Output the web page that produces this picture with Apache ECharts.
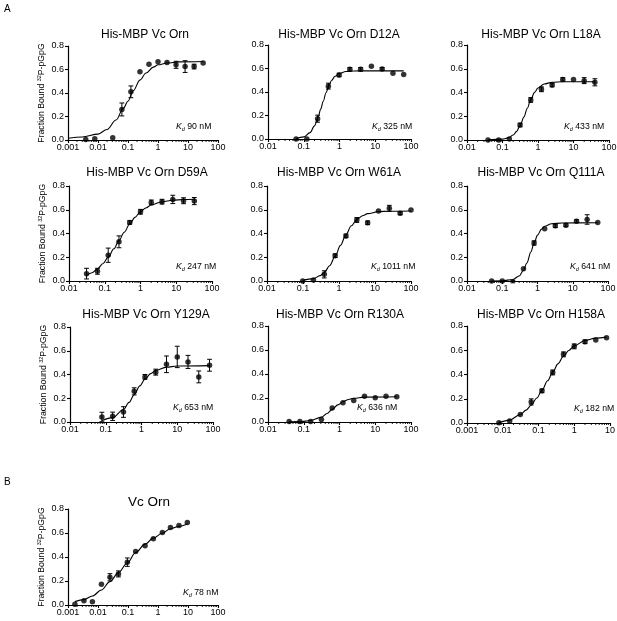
<!DOCTYPE html>
<html><head><meta charset="utf-8">
<script src="https://cdn.jsdelivr.net/npm/echarts@6/dist/echarts.min.js"></script>
<style>html,body{margin:0;padding:0;background:#fff}#c{width:617px;height:621px}</style>
</head><body><div id="c"></div>
<script>
const FONT = '"Liberation Sans", Arial, Helvetica, sans-serif';

// ---------------- data ----------------
const panelTitles = ['His-MBP Vc Orn', 'His-MBP Vc Orn D12A', 'His-MBP Vc Orn L18A',
  'His-MBP Vc Orn D59A', 'His-MBP Vc Orn W61A', 'His-MBP Vc Orn Q111A',
  'His-MBP Vc Orn Y129A', 'His-MBP Vc Orn R130A', 'His-MBP Vc Orn H158A', 'Vc Orn'];
const kdLabels = ['90 nM', '325 nM', '433 nM', '247 nM', '1011 nM', '641 nM', '653 nM', '636 nM', '182 nM', '78 nM'];
const xMin = [0.001, 0.01, 0.01, 0.01, 0.01, 0.01, 0.01, 0.01, 0.001, 0.001];
const xMax = [100, 100, 100, 100, 100, 100, 100, 100, 10, 100];
const yTicks = [0, 0.2, 0.4, 0.6, 0.8];
const yAxisTitle = ['Fraction Bound ', '32', 'P-pGpG'];

// His-MBP Vc Orn
const ornConc = [0.0039, 0.0078, 0.031, 0.0625, 0.125, 0.25, 0.5, 1, 2, 4, 8, 16, 32];
const ornFrac = [0.005, 0.01, 0.02, 0.26, 0.41, 0.58, 0.645, 0.665, 0.66, 0.64, 0.625, 0.625, 0.655];
const ornErr  = [0, 0, 0, 0.055, 0.05, 0, 0, 0, 0, 0.03, 0.05, 0.02, 0];
const ornFitConc = [0.001, 0.003, 0.01, 0.02, 0.04, 0.07, 0.1, 0.15, 0.25, 0.4, 0.7, 1, 2, 5, 32];
const ornFitFrac = [0.015, 0.025, 0.05, 0.09, 0.17, 0.27, 0.33, 0.42, 0.51, 0.57, 0.62, 0.64, 0.655, 0.665, 0.668];

// D12A
const d12aConc = [0.061, 0.122, 0.244, 0.488, 0.977, 1.95, 3.9, 7.8, 15.6, 31.25, 62.5];
const d12aFrac = [0.0, 0.0, 0.173, 0.45, 0.545, 0.593, 0.593, 0.62, 0.596, 0.559, 0.55];
const d12aErr  = [0, 0, 0.03, 0.025, 0.015, 0.015, 0.015, 0, 0.012, 0, 0];
const d12aFitConc = [0.061, 0.1, 0.15, 0.2, 0.25, 0.3, 0.35, 0.42, 0.5, 0.6, 0.75, 1, 1.5, 2.5, 5, 62.5];
const d12aFitFrac = [0.004, 0.018, 0.054, 0.112, 0.183, 0.256, 0.321, 0.394, 0.452, 0.498, 0.534, 0.559, 0.574, 0.579, 0.58, 0.58];

// L18A
const l18aConc = [0.039, 0.078, 0.156, 0.3125, 0.625, 1.25, 2.5, 5, 10, 20, 40];
const l18aFrac = [0, 0, 0.008, 0.126, 0.337, 0.427, 0.463, 0.51, 0.51, 0.5, 0.486];
const l18aErr  = [0, 0, 0, 0.015, 0.02, 0.02, 0.015, 0.015, 0, 0.025, 0.03];
const l18aFitConc = [0.039, 0.1, 0.15, 0.2, 0.25, 0.3125, 0.4, 0.5, 0.625, 0.8, 1, 1.5, 2.5, 5, 40];
const l18aFitFrac = [0.001, 0.007, 0.02, 0.042, 0.073, 0.12, 0.193, 0.268, 0.34, 0.401, 0.438, 0.472, 0.486, 0.49, 0.49];

// D59A
const d59aConc = [0.031, 0.0625, 0.125, 0.25, 0.5, 1, 2, 4, 8, 16, 32];
const d59aFrac = [0.062, 0.082, 0.217, 0.33, 0.493, 0.583, 0.662, 0.668, 0.687, 0.676, 0.673];
const d59aErr  = [0.045, 0.025, 0.06, 0.05, 0.015, 0.02, 0.02, 0.02, 0.035, 0.025, 0.03];
const d59aFitConc = [0.031, 0.044, 0.0625, 0.09, 0.125, 0.18, 0.25, 0.35, 0.5, 0.7, 1, 1.4, 2, 4, 8, 16, 32];
const d59aFitFrac = [0.047, 0.07, 0.102, 0.148, 0.201, 0.271, 0.34, 0.411, 0.48, 0.536, 0.583, 0.615, 0.64, 0.668, 0.68, 0.686, 0.688];

// W61A
const w61aConc = [0.098, 0.195, 0.39, 0.78, 1.56, 3.125, 6.25, 12.5, 25, 50, 100];
const w61aFrac = [0.0, 0.008, 0.056, 0.213, 0.38, 0.514, 0.49, 0.59, 0.612, 0.57, 0.598];
const w61aErr  = [0, 0, 0.03, 0.015, 0.015, 0.02, 0.015, 0, 0.025, 0.012, 0];
const w61aFitConc = [0.098, 0.195, 0.3, 0.39, 0.55, 0.78, 1.1, 1.56, 2.2, 3.125, 4.5, 6.25, 12.5, 25, 100];
const w61aFitFrac = [0.005, 0.02, 0.045, 0.072, 0.128, 0.208, 0.3, 0.39, 0.465, 0.517, 0.55, 0.567, 0.584, 0.588, 0.59];

// Q111A
const q111aConc = [0.05, 0.1, 0.2, 0.4, 0.8, 1.6, 3.2, 6.4, 12.8, 25.6, 51.2];
const q111aFrac = [0, 0, -0.005, 0.104, 0.32, 0.44, 0.465, 0.47, 0.504, 0.518, 0.493];
const q111aErr  = [0, 0, 0.01, 0, 0.018, 0, 0.015, 0.012, 0.012, 0.04, 0];
const q111aFitConc = [0.05, 0.1, 0.2, 0.3, 0.4, 0.5, 0.65, 0.8, 1, 1.3, 1.6, 2.5, 5, 51.2];
const q111aFitFrac = [0, 0.002, 0.013, 0.042, 0.09, 0.151, 0.245, 0.32, 0.386, 0.437, 0.461, 0.482, 0.489, 0.49];

// Y129A
const y129aConc = [0.078, 0.156, 0.3125, 0.625, 1.25, 2.5, 5, 10, 20, 40, 80];
const y129aFrac = [0.042, 0.048, 0.084, 0.258, 0.38, 0.42, 0.486, 0.548, 0.506, 0.38, 0.478];
const y129aErr  = [0.04, 0.035, 0.045, 0.03, 0.02, 0.025, 0.07, 0.09, 0.055, 0.05, 0.05];
const y129aFitConc = [0.078, 0.156, 0.3125, 0.45, 0.625, 0.9, 1.25, 1.8, 2.5, 5, 10, 80];
const y129aFitFrac = [0.012, 0.037, 0.105, 0.165, 0.23, 0.304, 0.36, 0.407, 0.434, 0.462, 0.471, 0.475];

// R130A
const r130aConc = [0.039, 0.078, 0.156, 0.3125, 0.625, 1.25, 2.5, 5, 10, 20, 40];
const r130aFrac = [0.005, 0.005, 0.005, 0.02, 0.117, 0.16, 0.18, 0.214, 0.203, 0.214, 0.21];
const r130aErr  = [0, 0, 0, 0, 0, 0, 0, 0, 0, 0, 0];
const r130aFitConc = [0.039, 0.078, 0.156, 0.3125, 0.45, 0.625, 0.9, 1.25, 1.8, 2.5, 5, 40];
const r130aFitFrac = [0.001, 0.003, 0.012, 0.041, 0.071, 0.105, 0.143, 0.169, 0.188, 0.198, 0.207, 0.21];

// H158A
const h158aConc = [0.0078, 0.0156, 0.031, 0.0625, 0.125, 0.25, 0.5, 1, 2, 4, 8];
const h158aFrac = [0.003, 0.016, 0.07, 0.174, 0.265, 0.417, 0.566, 0.632, 0.67, 0.684, 0.703];
const h158aErr  = [0, 0, 0, 0.025, 0.015, 0.02, 0.02, 0.02, 0.015, 0, 0];
const h158aFitConc = [0.0078, 0.0156, 0.031, 0.045, 0.0625, 0.09, 0.125, 0.18, 0.25, 0.35, 0.5, 0.7, 1, 2, 4, 8];
const h158aFitFrac = [0.003, 0.024, 0.07, 0.106, 0.147, 0.206, 0.27, 0.348, 0.42, 0.488, 0.55, 0.598, 0.636, 0.681, 0.7, 0.708];

// Vc Orn (panel B)
const vcConc = [0.0017, 0.0034, 0.0065, 0.013, 0.025, 0.048, 0.095, 0.18, 0.37, 0.7, 1.4, 2.6, 5, 9.5];
const vcFrac = [0.006, 0.036, 0.028, 0.173, 0.231, 0.259, 0.357, 0.446, 0.493, 0.552, 0.605, 0.646, 0.663, 0.688];
const vcErr  = [0, 0, 0, 0, 0.03, 0.025, 0.035, 0, 0, 0, 0, 0, 0, 0];
const vcFitConc = [0.0017, 0.0034, 0.0065, 0.013, 0.025, 0.048, 0.095, 0.18, 0.37, 0.7, 1.4, 2.6, 5, 9.5];
const vcFitFrac = [0.028, 0.045, 0.075, 0.125, 0.195, 0.27, 0.35, 0.437, 0.507, 0.557, 0.6, 0.635, 0.655, 0.677];

const panels = [
  [ornConc, ornFrac, ornErr, ornFitConc, ornFitFrac],
  [d12aConc, d12aFrac, d12aErr, d12aFitConc, d12aFitFrac],
  [l18aConc, l18aFrac, l18aErr, l18aFitConc, l18aFitFrac],
  [d59aConc, d59aFrac, d59aErr, d59aFitConc, d59aFitFrac],
  [w61aConc, w61aFrac, w61aErr, w61aFitConc, w61aFitFrac],
  [q111aConc, q111aFrac, q111aErr, q111aFitConc, q111aFitFrac],
  [y129aConc, y129aFrac, y129aErr, y129aFitConc, y129aFitFrac],
  [r130aConc, r130aFrac, r130aErr, r130aFitConc, r130aFitFrac],
  [h158aConc, h158aFrac, h158aErr, h158aFitConc, h158aFitFrac],
  [vcConc, vcFrac, vcErr, vcFitConc, vcFitFrac]
];

// ---------------- layout (pixels) ----------------
const layout = [
  {left: 68,  top: 46,  width: 150, height: 94, tx: 145, ty: 35,  kx: 176, ky: 127, ts: 12, yName: true},
  {left: 268, top: 45,  width: 143, height: 94, tx: 339, ty: 35,  kx: 372, ky: 127, ts: 12},
  {left: 467, top: 45,  width: 142, height: 95, tx: 541, ty: 35,  kx: 564, ky: 127, ts: 12},
  {left: 69,  top: 186, width: 143, height: 95, tx: 147, ty: 173, kx: 176, ky: 267, ts: 12, yName: true},
  {left: 267, top: 186, width: 144, height: 95, tx: 339, ty: 173, kx: 371, ky: 267, ts: 12},
  {left: 467, top: 186, width: 141, height: 95, tx: 541, ty: 173, kx: 570, ky: 267, ts: 12},
  {left: 70,  top: 327, width: 143, height: 95, tx: 146, ty: 315, kx: 173, ky: 408, ts: 12, yName: true},
  {left: 268, top: 326, width: 143, height: 96, tx: 340, ty: 315, kx: 357, ky: 408, ts: 12},
  {left: 467, top: 326, width: 143, height: 97, tx: 541, ty: 315, kx: 574, ky: 409, ts: 12},
  {left: 68,  top: 509, width: 150, height: 96, tx: 149, ty: 502, kx: 183, ky: 593, ts: 13.5, yName: true}
];

// ---------------- build ----------------
function errRender(params, api) {
  const x = api.value(0), y = api.value(1), e = api.value(2);
  const a = api.coord([x, y + e]), b = api.coord([x, y - e]);
  const w = 2.4;
  const st = {stroke: '#000', lineWidth: 1};
  return {type: 'group', children: [
    {type: 'line', shape: {x1: a[0], y1: a[1], x2: b[0], y2: b[1]}, style: st},
    {type: 'line', shape: {x1: a[0] - w, y1: a[1], x2: a[0] + w, y2: a[1]}, style: st},
    {type: 'line', shape: {x1: b[0] - w, y1: b[1], x2: b[0] + w, y2: b[1]}, style: st}
  ]};
}
function minorRender(params, api) {
  const p = api.coord([api.value(0), api.value(1)]);
  return {type: 'line', shape: {x1: p[0], y1: p[1], x2: p[0], y2: p[1] + 2}, style: {stroke: '#000', lineWidth: 0.9}};
}
function minorTickValues(lo, hi) {
  const out = [];
  const e0 = Math.round(Math.log10(lo)), e1 = Math.round(Math.log10(hi));
  for (let e = e0; e < e1; e++) for (let k = 2; k <= 9; k++) out.push(k * Math.pow(10, e));
  return out;
}

const grids = [], xAxes = [], yAxes = [], series = [], graphics = [];
panels.forEach((p, i) => {
  const [conc, frac, err, fitConc, fitFrac] = p;
  const L = layout[i];
  grids.push({left: L.left, top: L.top, width: L.width, height: L.height, containLabel: false, outerBoundsMode: 'none'});
  xAxes.push({
    type: 'log', logBase: 10, gridIndex: i, min: xMin[i], max: xMax[i], splitNumber: 5,
    axisLine: {onZero: false, lineStyle: {color: '#000', width: 1.2}},
    axisTick: {length: 3, lineStyle: {color: '#000', width: 1.1}},
    axisLabel: {fontSize: 9, color: '#000', fontFamily: FONT, margin: 3, hideOverlap: false,
      showMinLabel: true, showMaxLabel: true,
      formatter: v => String(+(+v).toPrecision(4))},
    splitLine: {show: false}
  });
  const yAx = {
    type: 'value', gridIndex: i, min: yTicks[0], max: yTicks[yTicks.length - 1], interval: yTicks[1] - yTicks[0],
    axisLine: {show: true, onZero: false, lineStyle: {color: '#000', width: 1.2}},
    axisTick: {show: true, length: 3, lineStyle: {color: '#000', width: 1.1}},
    axisLabel: {fontSize: 9, color: '#000', fontFamily: FONT, margin: 4, formatter: v => v.toFixed(1)},
    splitLine: {show: false}
  };
  if (L.yName) {
    Object.assign(yAx, {
      name: '{a|' + yAxisTitle[0] + '}{s|' + yAxisTitle[1] + '}{a|' + yAxisTitle[2] + '}',
      nameLocation: 'middle', nameRotate: 90, nameGap: 21,
      nameTextStyle: {color: '#000', fontFamily: FONT, fontSize: 8.7, rich: {
        a: {fontSize: 8.7, fontFamily: FONT, color: '#000', lineHeight: 11},
        s: {fontSize: 5.5, fontFamily: FONT, color: '#000', verticalAlign: 'top', lineHeight: 11}
      }}
    });
  }
  yAxes.push(yAx);

  series.push({
    type: 'custom', xAxisIndex: i, yAxisIndex: i, silent: true, clip: false, z: 1,
    data: minorTickValues(xMin[i], xMax[i]).map(x => [x, yTicks[0]]),
    encode: {x: 0, y: 1}, renderItem: minorRender
  });
  series.push({
    type: 'line', xAxisIndex: i, yAxisIndex: i, silent: true, z: 2,
    data: fitConc.map((x, j) => [x, fitFrac[j]]),
    smooth: 0.35, smoothMonotone: 'x', symbol: 'none',
    lineStyle: {color: '#000', width: 1.1}
  });
  series.push({
    type: 'custom', xAxisIndex: i, yAxisIndex: i, silent: true, z: 3,
    data: conc.map((x, j) => [x, frac[j], err[j]]).filter(d => d[2] > 0),
    encode: {x: 0, y: 1}, renderItem: errRender
  });
  series.push({
    type: 'scatter', xAxisIndex: i, yAxisIndex: i, silent: true, z: 4,
    data: conc.map((x, j) => [x, frac[j]]),
    symbol: 'circle', symbolSize: 5.5, itemStyle: {color: '#000'}
  });

  graphics.push({
    type: 'text', x: L.tx, y: L.ty, silent: true,
    style: {text: panelTitles[i], fill: '#000', fontSize: L.ts, fontFamily: FONT,
      align: 'center', verticalAlign: 'middle', textAlign: 'center', textVerticalAlign: 'middle'}
  });
  graphics.push({
    type: 'text', x: L.kx, y: L.ky, silent: true,
    style: {text: '{k|K}{d|d}{n| ' + kdLabels[i] + '}', fill: '#000', fontSize: 8.7, fontFamily: FONT,
      align: 'left', verticalAlign: 'middle', textAlign: 'left', textVerticalAlign: 'middle',
      rich: {
        k: {fontSize: 8.7, fontStyle: 'italic', fontFamily: FONT, lineHeight: 11},
        d: {fontSize: 5.5, fontStyle: 'italic', fontFamily: FONT, verticalAlign: 'bottom', lineHeight: 11},
        n: {fontSize: 8.7, fontFamily: FONT, lineHeight: 11}
      }}
  });
});
graphics.push({type: 'text', x: 4, y: 9, silent: true,
  style: {text: 'A', fill: '#000', fontSize: 10, fontFamily: FONT, align: 'left', verticalAlign: 'middle', textAlign: 'left', textVerticalAlign: 'middle'}});
graphics.push({type: 'text', x: 4, y: 482, silent: true,
  style: {text: 'B', fill: '#000', fontSize: 10, fontFamily: FONT, align: 'left', verticalAlign: 'middle', textAlign: 'left', textVerticalAlign: 'middle'}});

const chart = echarts.init(document.getElementById('c'), null, {renderer: 'canvas'});
chart.setOption({
  animation: false,
  backgroundColor: '#fff',
  textStyle: {fontFamily: FONT},
  grid: grids, xAxis: xAxes, yAxis: yAxes, series: series, graphic: graphics
});
</script>
</body></html>
